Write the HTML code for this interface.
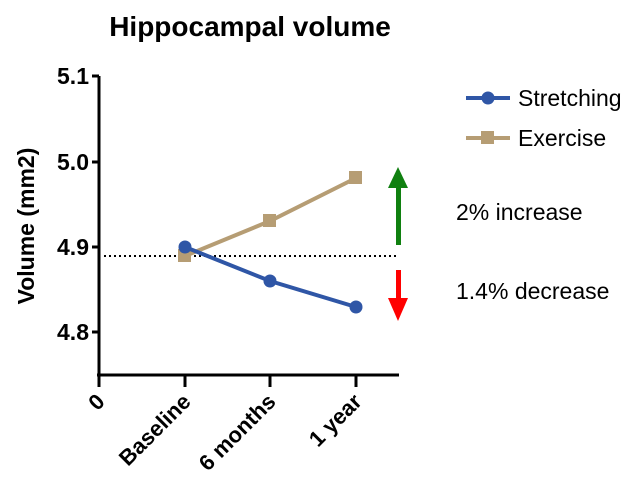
<!DOCTYPE html>
<html><head><style>body{margin:0;background:#fff}</style></head><body>
<svg width="634" height="494" viewBox="0 0 634 494" xmlns="http://www.w3.org/2000/svg" font-family="Liberation Sans, Arial, sans-serif">
<text x="250" y="36" font-size="28" font-weight="bold" text-anchor="middle">Hippocampal volume</text>
<g stroke="#000" stroke-width="3" fill="none">
<path d="M99 76V387M92 76H99M92 162H99M92 247H99M92 332H99M97 375H399M185 375V387M270 375V387M356 375V387"/>
</g>
<g font-size="23" font-weight="bold" text-anchor="end">
<text x="89" y="84">5.1</text><text x="89" y="170">5.0</text><text x="89" y="255">4.9</text><text x="89" y="340">4.8</text>
</g>
<text transform="translate(34,226) rotate(-90)" font-size="23" font-weight="bold" text-anchor="middle">Volume (mm2)</text>
<g font-size="22" font-weight="bold" text-anchor="end">
<text transform="translate(106,403) rotate(-45)">0</text>
<text transform="translate(192,403) rotate(-45)">Baseline</text>
<text transform="translate(277,403) rotate(-45)">6 months</text>
<text transform="translate(363,403) rotate(-45)">1 year</text>
</g>
<line x1="104" y1="256" x2="398" y2="256" stroke="#000" stroke-width="2" stroke-dasharray="2,3"/>
<polyline points="185,256 270,221 356,178" fill="none" stroke="#b69d74" stroke-width="4"/>
<g fill="#b69d74"><rect x="178" y="249" width="13" height="13"/><rect x="263" y="214" width="13" height="13"/><rect x="349" y="171" width="13" height="13"/></g>
<polyline points="185,247 270,281 356,307" fill="none" stroke="#2f56a6" stroke-width="4"/>
<g fill="#2f56a6"><circle cx="185" cy="247" r="6.5"/><circle cx="270" cy="281" r="6.5"/><circle cx="356" cy="307" r="6.5"/></g>
<rect x="396" y="186" width="5" height="59" fill="#108010"/>
<polygon points="398,167 408,188 388,188" fill="#108010"/>
<rect x="396" y="270" width="5" height="30" fill="#ff0000"/>
<polygon points="398,321 408,298 388,298" fill="#ff0000"/>
<line x1="466" y1="98" x2="510" y2="98" stroke="#2f56a6" stroke-width="4"/>
<circle cx="488" cy="98" r="6.5" fill="#2f56a6"/>
<text x="518" y="106" font-size="23">Stretching</text>
<line x1="466" y1="138" x2="510" y2="138" stroke="#b69d74" stroke-width="4"/>
<rect x="481" y="131" width="13" height="13" fill="#b69d74"/>
<text x="518" y="146" font-size="23">Exercise</text>
<text x="456" y="220" font-size="23">2% increase</text>
<text x="456" y="299" font-size="23">1.4% decrease</text>
</svg>
</body></html>
